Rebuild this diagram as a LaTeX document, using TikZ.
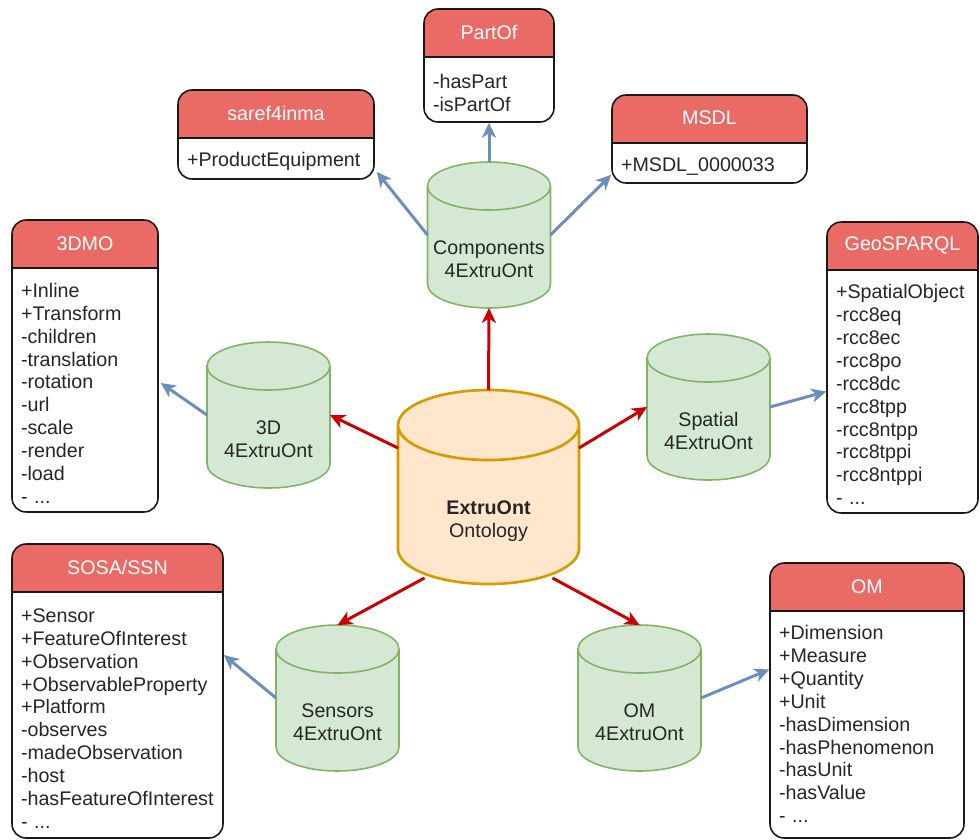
\documentclass[tikz,border=0pt]{standalone}
\usepackage{fontspec}
\setmainfont{Liberation Sans}
\usetikzlibrary{arrows.meta,positioning,calc,backgrounds}
\definecolor{VocabRed}{HTML}{EA6B66}
\definecolor{ModGreen}{HTML}{D5E8D4}
\definecolor{ModGreenLine}{HTML}{82B366}
\definecolor{CoreOrange}{HTML}{FFE6CC}
\definecolor{CoreOrangeLine}{HTML}{D79B00}
\definecolor{ImportRed}{HTML}{CC0000}
\definecolor{ReuseBlue}{HTML}{6C8EBF}
\hyphenpenalty=10000
\newcommand{\hdgap}{\rule{0pt}{35pt}}
\newcommand{\listgap}{\rule{0pt}{39pt}}
\newcommand{\coregap}{\rule{0pt}{47pt}}
% cylinder behind a named node: node, x radius, y radius, line, fill
\newcommand{\drawcyl}[5]{%
  \draw[#4,fill=#5] ([yshift=-#3]#1.north west) -- ([yshift=#3]#1.south west)
    arc[start angle=180,end angle=360,x radius=#2,y radius=#3]
    -- ([yshift=-#3]#1.north east)
    arc[start angle=0,end angle=180,x radius=#2,y radius=#3] -- cycle
    ([yshift=-#3]#1.north west) arc[start angle=180,end angle=360,x radius=#2,y radius=#3];}

\begin{document}
\begin{tikzpicture}[x=0.02cm,y=-0.02cm,
    every node/.style={font=\fontsize{11.2}{13}\selectfont,text=black!85},
    module/.style={rectangle,outer sep=0pt,inner sep=0pt,align=center,minimum width=2.46cm,minimum height=2.92cm},
    vocab/.style={draw=black!90,line width=0.9pt,rounded corners=0.28cm,fill=white,align=left,inner xsep=0.18cm,inner ysep=0pt,
      path picture={\fill[VocabRed,sharp corners] (path picture bounding box.north west) rectangle ([yshift=-0.96cm]path picture bounding box.north east);
        \draw[sharp corners] ([yshift=-0.96cm]path picture bounding box.north west) -- ([yshift=-0.96cm]path picture bounding box.north east);},
      label={[text=white,anchor=center,yshift=-0.48cm]north:#1}},
    importlink/.style={-{Stealth[length=8.5pt,width=8pt,inset=2.5pt]},ImportRed,line width=1.7pt},
    reuselink/.style={-{Stealth[length=8.5pt,width=8pt,inset=2.5pt]},ReuseBlue,line width=1.7pt}]
  \useasboundingbox (0,0) rectangle (980,839);

  % ontology and its modules
  \node[module,minimum width=3.62cm,minimum height=3.88cm] (core) at (488.5,487) {\coregap\textbf{ExtruOnt}\\Ontology};
  \node[module] (cmp) at (489,235) {\hdgap Components\\4ExtruOnt};
  \node[module] (threed) at (268.5,415) {\hdgap 3D\\4ExtruOnt};
  \node[module] (spatial) at (708.5,407) {\hdgap Spatial\\4ExtruOnt};
  \node[module] (sensors) at (337.5,698) {\hdgap Sensors\\4ExtruOnt};
  \node[module] (omdb) at (639.5,698) {\hdgap OM\\4ExtruOnt};

  % reused vocabularies
  \node[vocab=PartOf,text width=2.24cm,minimum height=2.26cm] (partof) at (489,65.5) {\listgap-hasPart\\-isPartOf};
  \node[vocab=saref4inma,text width=3.56cm,minimum height=1.78cm] (saref) at (276,134.5) {\listgap+ProductEquipment};
  \node[vocab=MSDL,text width=3.54cm,minimum height=1.76cm] (msdl) at (709.5,139) {\listgap+MSDL\_0000033};
  \node[vocab=3DMO,text width=2.56cm,minimum height=5.84cm] (dmo) at (85,366)
    {\listgap+Inline\\+Transform\\-children\\-translation\\-rotation\\-url\\-scale\\-render\\-load\\- ...};
  \node[vocab=GeoSPARQL,text width=2.66cm,minimum height=5.82cm] (geo) at (902.5,367.5)
    {\listgap+SpatialObject\\-rcc8eq\\-rcc8ec\\-rcc8po\\-rcc8dc\\-rcc8tpp\\-rcc8ntpp\\-rcc8tppi\\-rcc8ntppi\\- ...};
  \node[vocab=SOSA/SSN,text width=3.86cm,minimum height=5.88cm] (sosa) at (117.5,691)
    {\listgap+Sensor\\+FeatureOfInterest\\+Observation\\+ObservableProperty\\+Platform\\-observes\\-madeObservation\\-host\\-hasFeatureOfInterest\\- ...};
  \node[vocab=OM,text width=3.52cm,minimum height=5.5cm] (omv) at (867,700.5)
    {\hdgap+Dimension\\+Measure\\+Quantity\\+Unit\\-hasDimension\\-hasPhenomenon\\-hasUnit\\-hasValue\\- ...};

  \begin{scope}[on background layer]
    \foreach \cyl in {cmp,threed,spatial,sensors,omdb}
      {\drawcyl{\cyl}{1.23cm}{0.48cm}{ModGreenLine,line width=0.9pt}{ModGreen}}
    \drawcyl{core}{1.81cm}{0.7cm}{CoreOrangeLine,line width=1.5pt}{CoreOrange}
  \end{scope}

  % imports
  \draw[importlink] (core.north) -- (cmp.south);
  \draw[importlink] ($(core.west)+(0,-39)$) -- (threed.east);
  \draw[importlink] ($(core.east)+(0,-39)$) -- (spatial.west);
  \draw[importlink] ($(core.south)+(-64,-6)$) -- (sensors.north);
  \draw[importlink] ($(core.south)+(64,-6)$) -- (omdb.north);
  % reuse
  \draw[reuselink] (cmp.north) -- (partof.south);
  \draw[reuselink] (cmp.west) -- ($(saref.south east)+(2,-8)$);
  \draw[reuselink] (cmp.east) -- ($(msdl.south west)+(0,-9)$);
  \draw[reuselink] (threed.west) -- ($(dmo.east)+(2,17)$);
  \draw[reuselink] (spatial.east) -- ($(geo.west)+(0,24)$);
  \draw[reuselink] (sensors.west) -- ($(sosa.east)+(0,-36)$);
  \draw[reuselink] (omdb.east) -- ($(omv.west)+(0,-31)$);
\end{tikzpicture}
\end{document}
